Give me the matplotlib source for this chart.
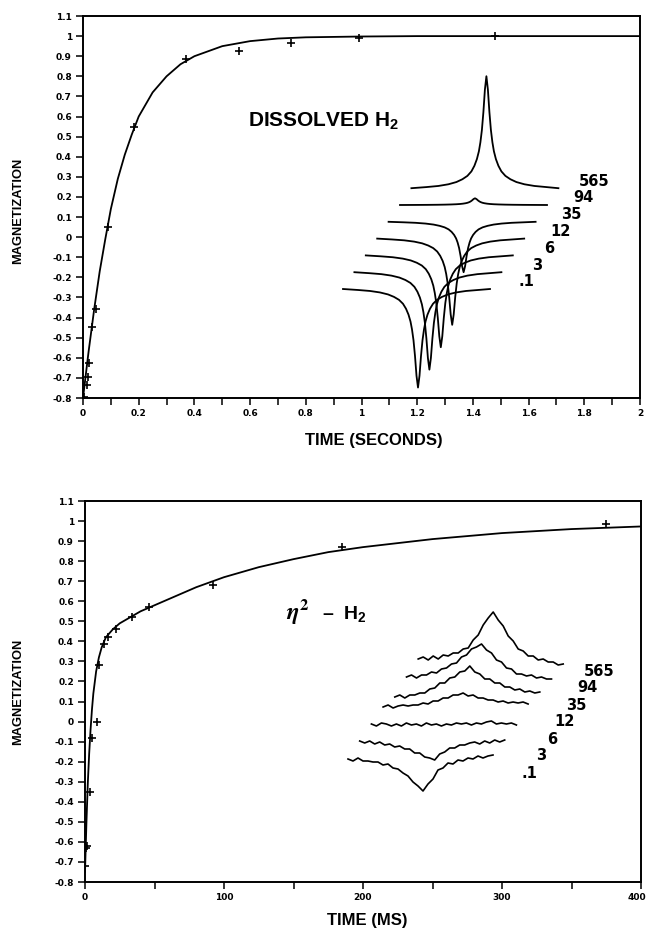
import numpy as np
import matplotlib
matplotlib.use("Agg")
import matplotlib.pyplot as plt
from matplotlib.transforms import ScaledTranslation

plt.rcParams['font.family'] = ['Liberation Sans', 'DejaVu Sans']
plt.rcParams['font.weight'] = 'bold'
plt.rcParams['mathtext.fontset'] = 'custom'
plt.rcParams['mathtext.rm'] = 'Liberation Sans:bold'
plt.rcParams['mathtext.bf'] = 'Liberation Sans:bold'
plt.rcParams['mathtext.it'] = 'Liberation Sans:italic'

# ---- top panel: dissolved H2, time in seconds
h2_t = [0.004, 0.013, 0.019, 0.022, 0.033, 0.046, 0.09, 0.183, 0.37, 0.56, 0.746, 0.99, 1.48]
h2_m = [-0.795, -0.736, -0.696, -0.626, -0.447, -0.358, 0.05, 0.55, 0.886, 0.926, 0.966, 0.99, 1.0]
h2_fit_t = [0, 0.02, 0.04, 0.06, 0.08, 0.1, 0.125, 0.15, 0.175, 0.2, 0.25, 0.3, 0.35,
            0.4, 0.5, 0.6, 0.7, 0.8, 1.0, 1.2, 1.5, 2.0]
h2_fit_m = [-0.80, -0.57, -0.36, -0.17, -0.01, 0.14, 0.29, 0.41, 0.51, 0.60, 0.72, 0.80, 0.86,
            0.90, 0.95, 0.975, 0.988, 0.994, 0.998, 1.0, 1.0, 1.0]

# ---- bottom panel: eta2-H2, time in ms
eta_t = [0.3, 0.8, 1.7, 3.6, 4.8, 8.4, 10.3, 13.7, 16.8, 22.0, 33.8, 45.8, 92.3, 185, 375]
eta_m = [-0.72, -0.63, -0.62, -0.35, -0.08, 0.0, 0.28, 0.385, 0.42, 0.46, 0.52, 0.57, 0.68, 0.87, 0.985]
eta_fit_t = [0, 1, 2, 3, 4, 5, 6, 8, 10, 12, 15, 20, 25, 30, 40, 50, 60, 80, 100, 125, 150,
             175, 200, 250, 300, 350, 400]
eta_fit_m = [-0.75, -0.51, -0.31, -0.16, -0.04, 0.06, 0.14, 0.25, 0.32, 0.37, 0.42, 0.46, 0.49,
             0.51, 0.55, 0.58, 0.61, 0.67, 0.72, 0.77, 0.81, 0.845, 0.87, 0.91, 0.94, 0.96, 0.973]

y_ticks = [round(-0.8 + 0.1 * k, 1) for k in range(20)]
y_labels = ['-0.8', '-0.7', '-0.6', '-0.5', '-0.4', '-0.3', '-0.2', '-0.1', '0', '0.1',
            '0.2', '0.3', '0.4', '0.5', '0.6', '0.7', '0.8', '0.9', '1', '1.1']
top_xticks = [0, 0.2, 0.4, 0.6, 0.8, 1.0, 1.2, 1.4, 1.6, 1.8, 2.0]
top_xlabels = ['0', '0.2', '0.4', '0.6', '0.8', '1', '1.2', '1.4', '1.6', '1.8', '2']
bot_xticks = [0, 100, 200, 300, 400]
bot_xlabels = ['0', '100', '200', '300', '400']

# ---- stacked spectra (delay times, ms)
delay_labels = ['.1', '3', '6', '12', '35', '94', '565']
# dissolved H2: peak intensity relative to the 565 ms spectrum
h2_amp = [-0.88, -0.87, -0.82, -0.77, -0.45, 0.06, 1.0]
h2_line_d = [-75, -60, -48, -38, -30, -24, -19, -15, -12, -9.5, -7.5, -6, -4.5, -3, -1.5, 0,
             1.5, 3, 4.5, 6, 7.5, 9.5, 12, 15, 19, 24, 30, 38, 48, 60, 72]
h2_line_v = [0.0, 0.01, 0.02, 0.035, 0.055, 0.08, 0.11, 0.15, 0.2, 0.26, 0.33, 0.41, 0.52, 0.68, 0.88, 1.0,
             0.88, 0.68, 0.52, 0.41, 0.33, 0.26, 0.2, 0.15, 0.11, 0.08, 0.055, 0.035, 0.02, 0.01, 0.0]

# eta2-H2: noisy broad lines, read trace by trace (offset from peak, height)
eta_d = list(range(-75, 71, 5))
eta_spec = [
    [0, -2, 1, -2, -2, -3, -3, -6, -5, -9, -10, -14, -17, -23, -27, -32, -25, -20, -11, -9,
     -4, -5, -1, -2, 1, 0, 3, 1, 3, 4],
    [1, -1, 1, -2, 0, -3, -2, -5, -4, -7, -7, -11, -11, -15, -16, -18, -12, -10, -6, -6,
     -3, -3, -1, 0, -2, 1, -1, 2, 0, 2],
    [1, -1, 2, 1, -1, 1, -1, 2, 0, 1, -1, 2, 0, 1, -1, 1, 0, 2, 1, 2,
     0, 2, 1, 3, 4, 1, 2, 1, 2, 0],
    [1, 3, 0, 2, 3, 2, 3, 3, 5, 4, 7, 7, 10, 10, 13, 13, 15, 12, 13, 10,
     10, 8, 8, 6, 7, 5, 6, 5, 6, 4],
    [-6, -4, -7, -4, -4, -2, -2, 2, 3, 8, 8, 13, 14, 19, 20, 25, 19, 17, 12, 12,
     8, 8, 4, 4, 1, 2, -1, 0, -2, -1],
    [-3, -1, -4, -1, -1, 2, 1, 5, 6, 10, 11, 17, 19, 25, 27, 30, 24, 21, 14, 12,
     6, 5, 0, 0, -2, -1, -4, -3, -5, -5],
    [-2, 0, -3, 1, -2, 2, 1, 4, 4, 8, 9, 17, 22, 32, 39, 45, 37, 31, 21, 16,
     8, 6, 1, 1, -3, -2, -5, -5, -8, -7],
]

W, H = 648, 932
fig = plt.figure(figsize=(W / 100, H / 100), dpi=100)


def px_axes(left, top, right, bottom):
    return fig.add_axes([left / W, 1 - bottom / H, (right - left) / W, (bottom - top) / H])


def style(ax, xlim, xticks, xlabels, minor):
    ax.set_xlim(*xlim)
    ax.set_ylim(-0.8, 1.1)
    ax.set_yticks(y_ticks)
    ax.set_yticklabels(y_labels)
    ax.set_xticks(xticks)
    ax.set_xticklabels(xlabels)
    ax.set_xticks(minor, minor=True)
    ax.tick_params(which='both', direction='out', length=5, width=1.1, pad=3)
    for lab in ax.get_xticklabels() + ax.get_yticklabels():
        lab.set_fontfamily('DejaVu Sans')
        lab.set_fontweight('bold')
        lab.set_fontsize(6.5)
    for s in ax.spines.values():
        s.set_linewidth(1.4)


ax1 = px_axes(83, 16, 640, 398)
ax1.plot(h2_fit_t, h2_fit_m, color='k', lw=1.3)
ax1.plot(h2_t, h2_m, ls='none', marker='+', ms=6, mew=1.2, color='k')
style(ax1, (0, 2), top_xticks, top_xlabels, [0.1 + 0.2 * k for k in range(10)])

ax2 = px_axes(85, 501, 641, 882)
ax2.plot(eta_fit_t, eta_fit_m, color='k', lw=1.3)
ax2.plot(eta_t, eta_m, ls='none', marker='+', ms=6, mew=1.2, color='k')
style(ax2, (0, 400), bot_xticks, bot_xlabels, [50, 150, 250, 350])
# last label sits against the right edge of the page
last = ax2.get_xticklabels()[-1]
last.set_horizontalalignment('right')
last.set_transform(last.get_transform() + ScaledTranslation(0.05, 0, fig.dpi_scale_trans))

# overlay in pixel units for the stacked spectra and captions
ov = fig.add_axes([0, 0, 1, 1])
ov.set_xlim(0, W)
ov.set_ylim(H, 0)
ov.axis('off')
ov.patch.set_alpha(0)

# top stack
for i, (lab, a) in enumerate(zip(delay_labels, h2_amp)):
    cx = 418 + i * 11.4
    by = 289 - i * 16.8
    ov.plot(cx + np.array(h2_line_d), by - a * 112 * np.array(h2_line_v), color='k', lw=1.3)
    ov.text(cx + 72 + 36, by - 7, lab, ha='center', va='center', fontsize=10.5,
            fontweight='bold', family='DejaVu Sans')

# bottom stack
for i, (lab, tr) in enumerate(zip(delay_labels, eta_spec)):
    cx = 423 + i * 11.7
    by = 759 - i * 17
    ov.plot(cx + np.array(eta_d), by - np.array(tr), color='k', lw=1.2)
    ov.text(cx + 70 + 36, by + 14, lab, ha='center', va='center', fontsize=10.5,
            fontweight='bold', family='DejaVu Sans')

ov.text(248, 121, r'DISSOLVED H$_\mathbf{2}$', ha='left', va='center', fontsize=15, fontweight='bold')
ov.text(286, 612, r'$\eta^2$', ha='left', va='center', fontsize=17, math_fontfamily='stix')
ov.text(322, 614, r'–  H$_\mathbf{2}$', ha='left', va='center', fontsize=14, fontweight='bold')

ov.text(18, 211, 'MAGNETIZATION', rotation=90, ha='center', va='center', fontsize=9.3, fontweight='bold')
ov.text(18, 692, 'MAGNETIZATION', rotation=90, ha='center', va='center', fontsize=9.3, fontweight='bold')
ov.text(374, 441, 'TIME (SECONDS)', ha='center', va='center', fontsize=12, fontweight='bold')
ov.text(367, 921, 'TIME (MS)', ha='center', va='center', fontsize=12, fontweight='bold')

fig.savefig('out.png', dpi=100)
